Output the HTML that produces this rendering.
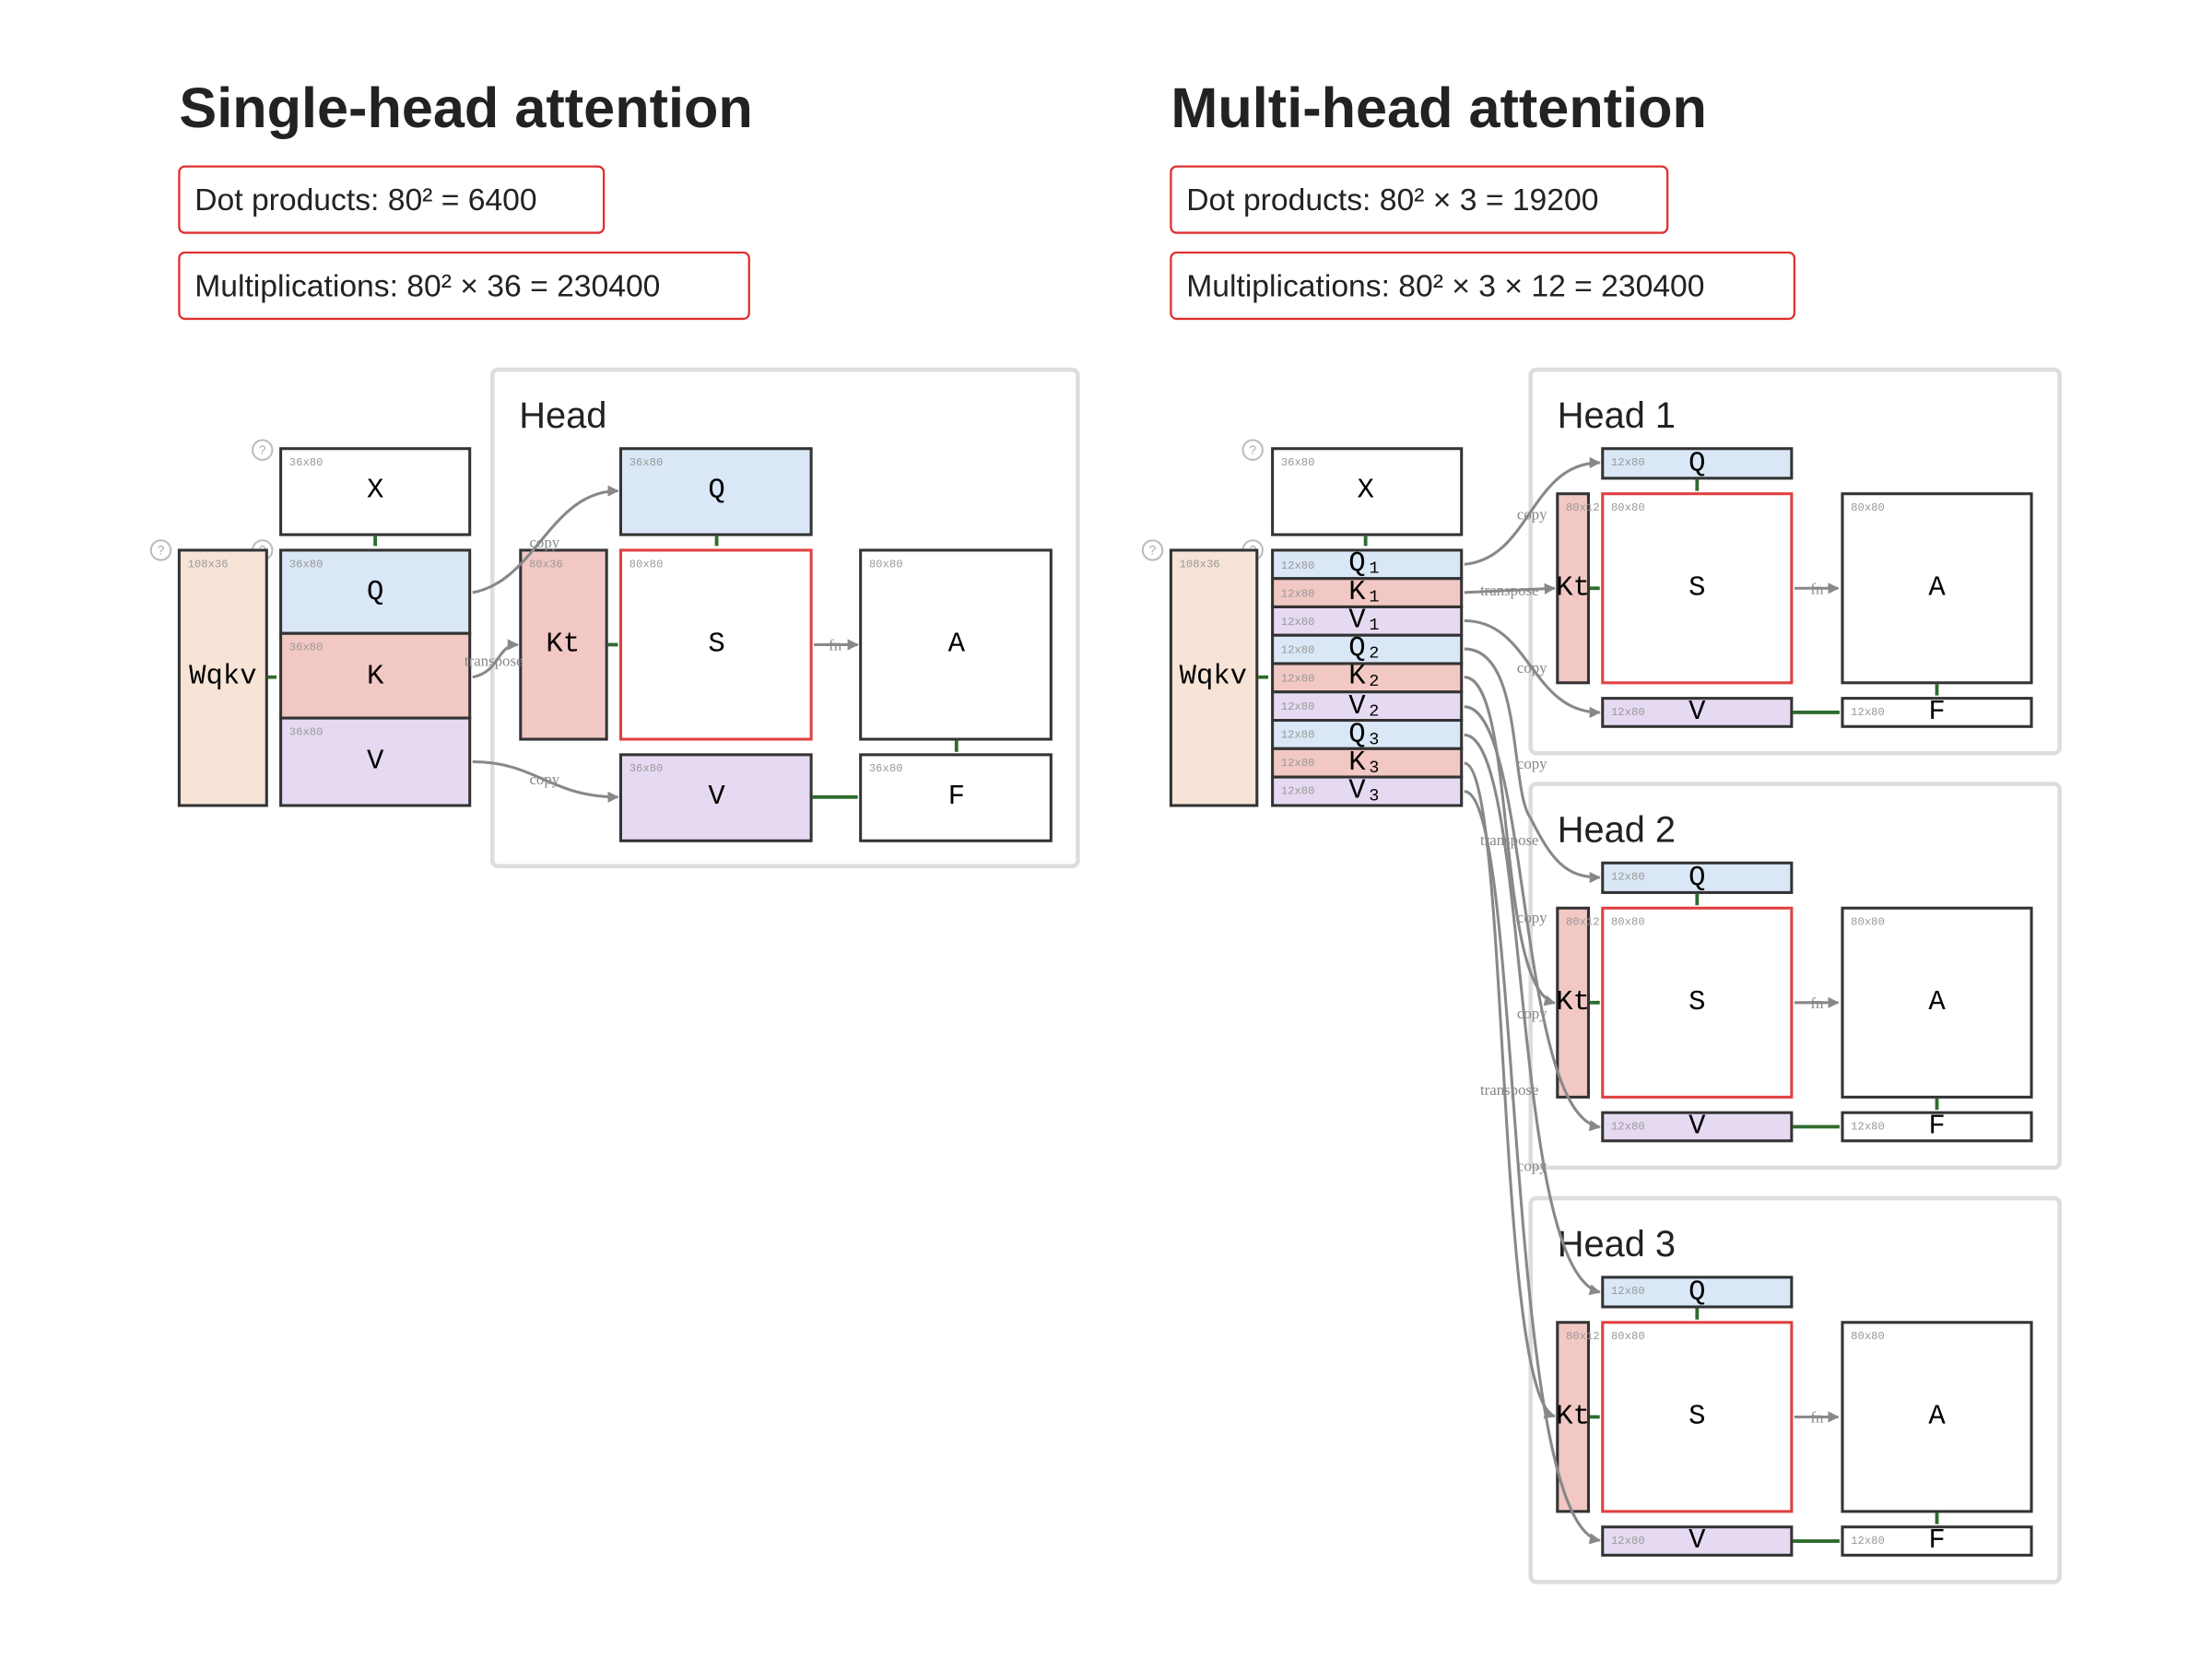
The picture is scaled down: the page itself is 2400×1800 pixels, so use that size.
<!DOCTYPE html>
<html><head><meta charset="utf-8"><style>
html,body{margin:0;padding:0;background:#fff}
svg{display:block}
.t{font-family:"Liberation Sans",sans-serif;fill:#222}
.m{font-family:"Liberation Mono",monospace;fill:#000;text-anchor:middle;dominant-baseline:central}
.d{font-family:"Liberation Mono",monospace;fill:#999;font-size:8px}
.l{font-family:"Liberation Serif",serif;fill:#888;font-size:11px;text-anchor:middle}
.c{fill:none;stroke:#888;stroke-width:2}
.b{stroke:#333;stroke-width:2}
.g{stroke:#2e6b2e;stroke-width:2.5}
</style></head><body>
<svg width="2400" height="1800" viewBox="0 0 1568 1176" xmlns="http://www.w3.org/2000/svg">
<defs><marker id="ar" viewBox="0 0 10 10" refX="9" refY="5" markerWidth="4" markerHeight="4" orient="auto"><path d="M0,0L10,5L0,10z" fill="#888"/></marker></defs>

<text class="t" x="127" y="90" font-size="40" font-weight="bold">Single-head attention</text>
<text class="t" x="830" y="90" font-size="40" font-weight="bold">Multi-head attention</text>
<rect x="127" y="118" width="301" height="47" rx="4" fill="#fff" stroke="#e03030" stroke-width="1.5"/>
<text class="t" x="138" y="149" font-size="22">Dot products: 80² = 6400</text>
<rect x="127" y="179" width="404" height="47" rx="4" fill="#fff" stroke="#e03030" stroke-width="1.5"/>
<text class="t" x="138" y="210" font-size="22">Multiplications: 80² × 36 = 230400</text>
<rect x="830" y="118" width="352" height="47" rx="4" fill="#fff" stroke="#e03030" stroke-width="1.5"/>
<text class="t" x="841" y="149" font-size="22">Dot products: 80² × 3 = 19200</text>
<rect x="830" y="179" width="442" height="47" rx="4" fill="#fff" stroke="#e03030" stroke-width="1.5"/>
<text class="t" x="841" y="210" font-size="22">Multiplications: 80² × 3 × 12 = 230400</text>

<!-- LEFT -->
<rect x="349" y="262" width="415" height="352" rx="4" fill="none" stroke="#ddd" stroke-width="3"/>
<text class="t" x="368" y="303" font-size="26">Head</text>
<g fill="none" stroke="#bbb" stroke-width="1.3"><circle cx="186" cy="319" r="7"/><circle cx="114" cy="390" r="7"/><circle cx="186" cy="390" r="7"/></g>
<g font-size="9" fill="#aaa" font-family="Liberation Sans,sans-serif" text-anchor="middle"><text x="186" y="322">?</text><text x="114" y="393">?</text><text x="186" y="393">?</text></g>
<rect class="b" x="127" y="390" width="62" height="181" fill="#f7e4d7"/>
<rect class="b" x="199" y="318" width="134" height="61" fill="#fff"/>
<rect class="b" x="199" y="390" width="134" height="59" fill="#dae7f6"/>
<rect class="b" x="199" y="449" width="134" height="60" fill="#f2c8c4"/>
<rect class="b" x="199" y="509" width="134" height="62" fill="#e6daf2"/>
<rect class="b" x="369" y="390" width="61" height="134" fill="#f2c8c4"/>
<rect class="b" x="440" y="318" width="135" height="61" fill="#dae7f6"/>
<rect x="440" y="390" width="135" height="134" fill="#fff" stroke="#e04040" stroke-width="2"/>
<rect class="b" x="610" y="390" width="135" height="134" fill="#fff"/>
<rect class="b" x="440" y="535" width="135" height="61" fill="#e6daf2"/>
<rect class="b" x="610" y="535" width="135" height="61" fill="#fff"/>
<line class="g" x1="266" y1="380" x2="266" y2="387"/><line class="g" x1="190" y1="480" x2="196" y2="480"/>
<line class="g" x1="508" y1="380" x2="508" y2="387"/><line class="g" x1="431" y1="457" x2="438" y2="457"/>
<line class="g" x1="678" y1="525" x2="678" y2="533"/><line class="g" x1="576" y1="565" x2="608" y2="565"/>
<path class="c" d="M335 420 C380 412 390 348 438 348" marker-end="url(#ar)"/>
<path class="c" d="M335 480 C355 476 352 457 367 457" marker-end="url(#ar)"/>
<path class="c" d="M335 540 C380 540 390 565 438 565" marker-end="url(#ar)"/>
<path class="c" d="M577 457 L608 457" marker-end="url(#ar)"/>
<text class="l" x="386" y="388">copy</text><text class="l" x="350" y="472">transpose</text><text class="l" x="386" y="556">copy</text><text class="l" x="592" y="461">fn</text>
<g class="d"><text x="133" y="402">108x36</text><text x="205" y="330">36x80</text><text x="205" y="402">36x80</text><text x="205" y="461">36x80</text><text x="205" y="521">36x80</text><text x="375" y="402">80x36</text><text x="446" y="330">36x80</text><text x="446" y="402">80x80</text><text x="616" y="402">80x80</text><text x="446" y="547">36x80</text><text x="616" y="547">36x80</text></g>
<g class="m" font-size="20"><text x="158" y="480">Wqkv</text><text x="266" y="348">X</text><text x="266" y="420">Q</text><text x="266" y="480">K</text><text x="266" y="540">V</text><text x="399" y="457">Kt</text><text x="508" y="348">Q</text><text x="508" y="457">S</text><text x="678" y="457">A</text><text x="508" y="565">V</text><text x="678" y="565">F</text></g>

<!-- RIGHT -->
<g fill="none" stroke="#bbb" stroke-width="1.3"><circle cx="888" cy="319" r="7"/><circle cx="817" cy="390" r="7"/><circle cx="888" cy="390" r="7"/></g>
<g font-size="9" fill="#aaa" font-family="Liberation Sans,sans-serif" text-anchor="middle"><text x="888" y="322">?</text><text x="817" y="393">?</text><text x="888" y="393">?</text></g>
<rect class="b" x="830" y="390" width="61" height="181" fill="#f7e4d7"/>
<rect class="b" x="902" y="318" width="134" height="61" fill="#fff"/>
<line class="g" x1="968" y1="380" x2="968" y2="387"/><line class="g" x1="892" y1="480" x2="899" y2="480"/>
<g class="b">
<rect x="902" y="390" width="134" height="20.1" fill="#dae7f6"/><rect x="902" y="410.1" width="134" height="20.1" fill="#f2c8c4"/><rect x="902" y="430.2" width="134" height="20.1" fill="#e6daf2"/>
<rect x="902" y="450.3" width="134" height="20.1" fill="#dae7f6"/><rect x="902" y="470.4" width="134" height="20.1" fill="#f2c8c4"/><rect x="902" y="490.5" width="134" height="20.1" fill="#e6daf2"/>
<rect x="902" y="510.6" width="134" height="20.1" fill="#dae7f6"/><rect x="902" y="530.7" width="134" height="20.1" fill="#f2c8c4"/><rect x="902" y="550.8" width="134" height="20.2" fill="#e6daf2"/>
</g>
<g class="d"><text x="836" y="402">108x36</text><text x="908" y="330">36x80</text>
<text x="908" y="403">12x80</text><text x="908" y="423">12x80</text><text x="908" y="443">12x80</text><text x="908" y="463">12x80</text><text x="908" y="483">12x80</text><text x="908" y="503">12x80</text><text x="908" y="523">12x80</text><text x="908" y="543">12x80</text><text x="908" y="563">12x80</text></g>
<g class="m" font-size="20"><text x="860" y="480">Wqkv</text><text x="968" y="348">X</text>
<text x="968" y="400">Q₁</text><text x="968" y="420">K₁</text><text x="968" y="440">V₁</text><text x="968" y="460">Q₂</text><text x="968" y="480">K₂</text><text x="968" y="501">V₂</text><text x="968" y="521">Q₃</text><text x="968" y="541">K₃</text><text x="968" y="561">V₃</text></g>

<!-- heads -->
<g id="h1">
<rect x="1085" y="262" width="375" height="272" rx="4" fill="none" stroke="#ddd" stroke-width="3"/>
<text class="t" x="1104" y="303" font-size="26">Head 1</text>
<rect class="b" x="1136" y="318" width="134" height="21" fill="#dae7f6"/>
<rect class="b" x="1104" y="350" width="22" height="134" fill="#f2c8c4"/>
<rect x="1136" y="350" width="134" height="134" fill="#fff" stroke="#e04040" stroke-width="2"/>
<rect class="b" x="1306" y="350" width="134" height="134" fill="#fff"/>
<rect class="b" x="1136" y="495" width="134" height="20" fill="#e6daf2"/>
<rect class="b" x="1306" y="495" width="134" height="20" fill="#fff"/>
<line class="g" x1="1203" y1="340" x2="1203" y2="348"/><line class="g" x1="1127" y1="417" x2="1134" y2="417"/>
<line class="g" x1="1373" y1="485" x2="1373" y2="493"/><line class="g" x1="1271" y1="505" x2="1304" y2="505"/>
<path class="c" d="M1272 417 L1303 417" marker-end="url(#ar)"/><text class="l" x="1288" y="421">fn</text>
<g class="d"><text x="1142" y="330">12x80</text><text x="1110" y="362">80x12</text><text x="1142" y="362">80x80</text><text x="1312" y="362">80x80</text><text x="1142" y="507">12x80</text><text x="1312" y="507">12x80</text></g>
<g class="m" font-size="20"><text x="1203" y="329">Q</text><text x="1115" y="417">Kt</text><text x="1203" y="417">S</text><text x="1373" y="417">A</text><text x="1203" y="505">V</text><text x="1373" y="505">F</text></g>
</g>
<g transform="translate(0,293.7)">
<rect x="1085" y="262" width="375" height="272" rx="4" fill="none" stroke="#ddd" stroke-width="3"/>
<text class="t" x="1104" y="303" font-size="26">Head 2</text>
<rect class="b" x="1136" y="318" width="134" height="21" fill="#dae7f6"/>
<rect class="b" x="1104" y="350" width="22" height="134" fill="#f2c8c4"/>
<rect x="1136" y="350" width="134" height="134" fill="#fff" stroke="#e04040" stroke-width="2"/>
<rect class="b" x="1306" y="350" width="134" height="134" fill="#fff"/>
<rect class="b" x="1136" y="495" width="134" height="20" fill="#e6daf2"/>
<rect class="b" x="1306" y="495" width="134" height="20" fill="#fff"/>
<line class="g" x1="1203" y1="340" x2="1203" y2="348"/><line class="g" x1="1127" y1="417" x2="1134" y2="417"/>
<line class="g" x1="1373" y1="485" x2="1373" y2="493"/><line class="g" x1="1271" y1="505" x2="1304" y2="505"/>
<path class="c" d="M1272 417 L1303 417" marker-end="url(#ar)"/><text class="l" x="1288" y="421">fn</text>
<g class="d"><text x="1142" y="330">12x80</text><text x="1110" y="362">80x12</text><text x="1142" y="362">80x80</text><text x="1312" y="362">80x80</text><text x="1142" y="507">12x80</text><text x="1312" y="507">12x80</text></g>
<g class="m" font-size="20"><text x="1203" y="329">Q</text><text x="1115" y="417">Kt</text><text x="1203" y="417">S</text><text x="1373" y="417">A</text><text x="1203" y="505">V</text><text x="1373" y="505">F</text></g>
</g>
<g transform="translate(0,587.4)">
<rect x="1085" y="262" width="375" height="272" rx="4" fill="none" stroke="#ddd" stroke-width="3"/>
<text class="t" x="1104" y="303" font-size="26">Head 3</text>
<rect class="b" x="1136" y="318" width="134" height="21" fill="#dae7f6"/>
<rect class="b" x="1104" y="350" width="22" height="134" fill="#f2c8c4"/>
<rect x="1136" y="350" width="134" height="134" fill="#fff" stroke="#e04040" stroke-width="2"/>
<rect class="b" x="1306" y="350" width="134" height="134" fill="#fff"/>
<rect class="b" x="1136" y="495" width="134" height="20" fill="#e6daf2"/>
<rect class="b" x="1306" y="495" width="134" height="20" fill="#fff"/>
<line class="g" x1="1203" y1="340" x2="1203" y2="348"/><line class="g" x1="1127" y1="417" x2="1134" y2="417"/>
<line class="g" x1="1373" y1="485" x2="1373" y2="493"/><line class="g" x1="1271" y1="505" x2="1304" y2="505"/>
<path class="c" d="M1272 417 L1303 417" marker-end="url(#ar)"/><text class="l" x="1288" y="421">fn</text>
<g class="d"><text x="1142" y="330">12x80</text><text x="1110" y="362">80x12</text><text x="1142" y="362">80x80</text><text x="1312" y="362">80x80</text><text x="1142" y="507">12x80</text><text x="1312" y="507">12x80</text></g>
<g class="m" font-size="20"><text x="1203" y="329">Q</text><text x="1115" y="417">Kt</text><text x="1203" y="417">S</text><text x="1373" y="417">A</text><text x="1203" y="505">V</text><text x="1373" y="505">F</text></g>
</g>

<!-- multi-head connectors -->
<path class="c" d="M1038 400 C1085 396 1085 328 1134 328" marker-end="url(#ar)"/>
<path class="c" d="M1038 420 L1102 417" marker-end="url(#ar)"/>
<path class="c" d="M1038 440 C1085 440 1085 505 1134 505" marker-end="url(#ar)"/>
<path class="c" d="M1038 460 C1080 460 1070 560 1085 580 C1100 610 1110 622 1134 622" marker-end="url(#ar)"/>
<path class="c" d="M1038 480 C1075 480 1060 700 1102 711" marker-end="url(#ar)"/>
<path class="c" d="M1038 501 C1085 501 1075 790 1134 799" marker-end="url(#ar)"/>
<path class="c" d="M1038 521 C1085 521 1070 900 1134 916" marker-end="url(#ar)"/>
<path class="c" d="M1038 541 C1070 541 1060 990 1102 1004" marker-end="url(#ar)"/>
<path class="c" d="M1038 561 C1080 561 1065 1080 1134 1092" marker-end="url(#ar)"/>
<g class="l"><text x="1086" y="368">copy</text><text x="1070" y="422">transpose</text><text x="1086" y="477">copy</text><text x="1086" y="545">copy</text><text x="1070" y="599">transpose</text><text x="1086" y="654">copy</text><text x="1086" y="722">copy</text><text x="1070" y="776">transpose</text><text x="1086" y="830">copy</text></g>
</svg>
</body></html>
